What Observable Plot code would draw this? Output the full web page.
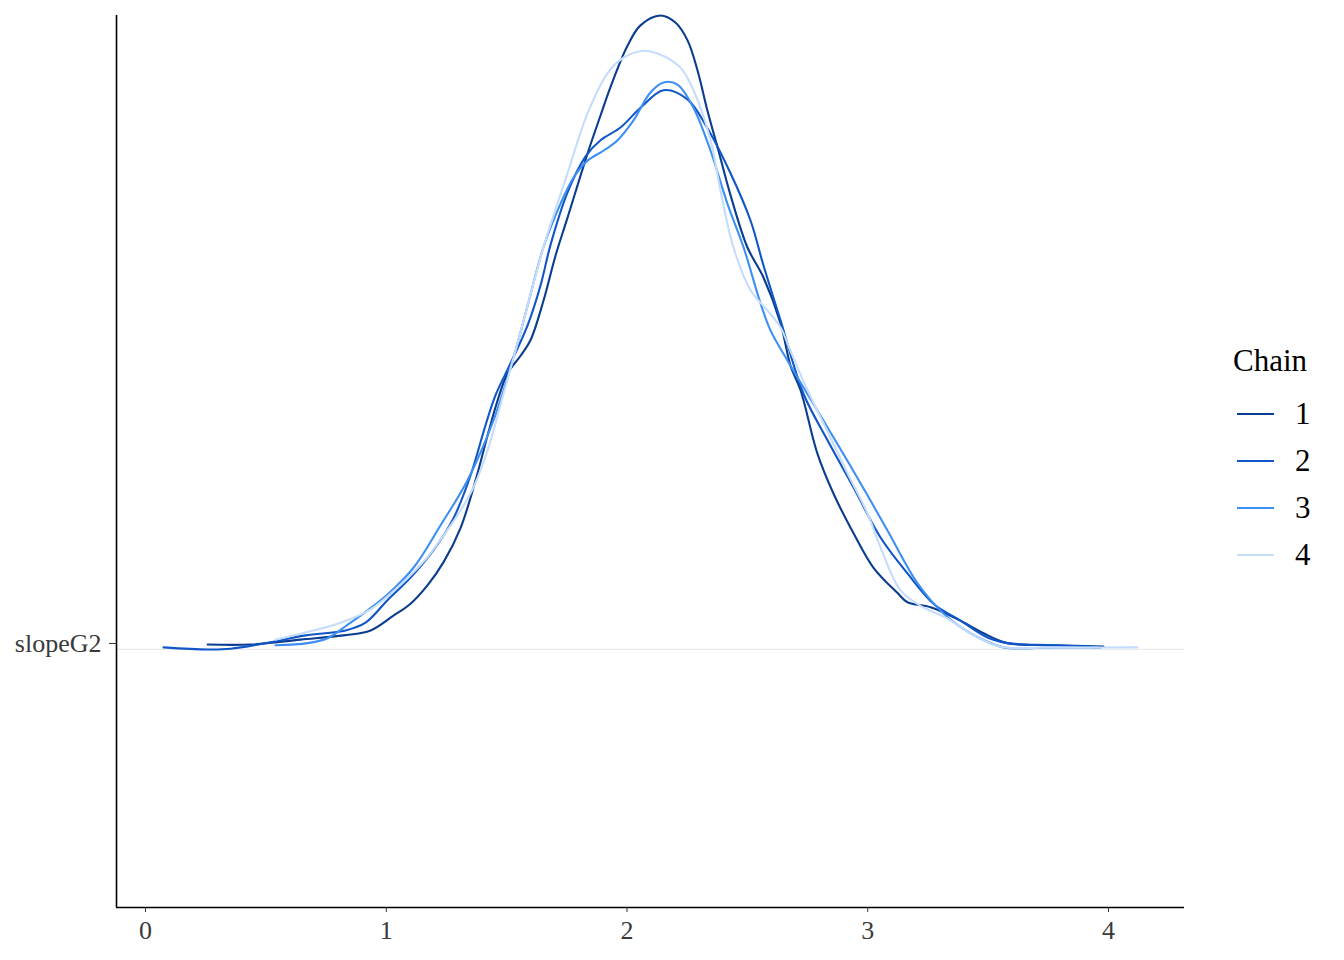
<!DOCTYPE html>
<html>
<head>
<meta charset="utf-8">
<script src="https://cdn.jsdelivr.net/npm/d3@7"></script>
<script src="https://cdn.jsdelivr.net/npm/@observablehq/plot@0.6"></script>
<style>
  html, body { margin: 0; padding: 0; background: #fff; }
  #wrap { position: relative; width: 1344px; height: 960px; font-family: "Liberation Serif", "Times New Roman", serif; }
  #chart { position: absolute; left: 0; top: 0; }
  #legend { position: absolute; left: 1233px; top: 341px; color: #000; }
  #legend .title { font-size: 31px; line-height: 40px; margin-bottom: 9px; }
  #legend .item { display: flex; align-items: center; height: 47px; }
  #legend .sw { width: 37px; height: 0; border-top: 2.5px solid; margin-left: 4px; margin-right: 21px; }
  #legend .lab { font-size: 31px; }
</style>
</head>
<body>
<div id="wrap">
  <div id="chart"></div>
  <div id="legend"></div>
</div>
<script>
// ---- data: kernel density estimates per chain, [x, density] ----
const parameter = "slopeG2";
const chains = ["1", "2", "3", "4"];
const chainColors = ["#0b3d8f", "#1056c8", "#3d8ff2", "#c5dcfa"];
const xTicks = [0, 1, 2, 3, 4];

const chain1 = [
  [0.258,0.007],[0.436,0.007],[0.644,0.014],[0.822,0.020],[0.935,0.027],[1.030,0.048],
  [1.101,0.065],[1.171,0.091],[1.238,0.124],[1.308,0.172],[1.371,0.240],[1.421,0.304],
  [1.462,0.353],[1.504,0.392],[1.558,0.417],[1.599,0.439],[1.653,0.495],[1.703,0.559],
  [1.753,0.613],[1.836,0.704],[1.890,0.758],[1.931,0.798],[2.002,0.857],[2.056,0.886],
  [2.139,0.900],[2.201,0.890],[2.251,0.865],[2.293,0.822],[2.334,0.765],[2.380,0.708],
  [2.430,0.645],[2.500,0.571],[2.567,0.528],[2.638,0.463],[2.679,0.403],[2.721,0.368],
  [2.791,0.278],[2.858,0.221],[2.941,0.165],[3.024,0.116],[3.124,0.080],[3.165,0.067],
  [3.261,0.060],[3.385,0.041],[3.481,0.023],[3.580,0.009],[3.772,0.006],[3.979,0.004]
];
const chain2 = [
  [0.075,0.003],[0.258,0.000],[0.353,0.001],[0.532,0.011],[0.665,0.020],[0.831,0.027],
  [0.914,0.038],[1.005,0.070],[1.101,0.102],[1.196,0.141],[1.279,0.186],[1.350,0.247],
  [1.412,0.318],[1.454,0.361],[1.516,0.406],[1.587,0.460],[1.641,0.517],[1.682,0.574],
  [1.753,0.649],[1.828,0.700],[1.890,0.723],[1.973,0.741],[2.056,0.769],[2.152,0.794],
  [2.251,0.781],[2.334,0.740],[2.430,0.676],[2.513,0.609],[2.567,0.545],[2.638,0.467],
  [2.733,0.363],[2.833,0.297],[2.941,0.230],[3.053,0.159],[3.165,0.108],[3.273,0.065],
  [3.385,0.041],[3.497,0.017],[3.580,0.009],[3.772,0.006],[3.967,0.003]
];
const chain3 = [
  [0.540,0.006],[0.673,0.009],[0.756,0.016],[0.839,0.035],[0.893,0.048],[1.005,0.078],
  [1.113,0.116],[1.225,0.176],[1.337,0.240],[1.445,0.325],[1.529,0.415],[1.587,0.488],
  [1.653,0.571],[1.724,0.633],[1.778,0.670],[1.836,0.694],[1.902,0.708],[1.961,0.723],
  [2.027,0.751],[2.098,0.791],[2.152,0.805],[2.210,0.802],[2.276,0.769],[2.347,0.708],
  [2.417,0.633],[2.484,0.571],[2.555,0.491],[2.596,0.453],[2.667,0.410],[2.733,0.372],
  [2.858,0.301],[2.970,0.236],[3.082,0.169],[3.207,0.094],[3.315,0.051],[3.427,0.023],
  [3.564,0.003],[3.772,0.003],[3.954,0.003]
];
const chain4 = [
  [0.540,0.014],[0.665,0.024],[0.810,0.038],[0.935,0.057],[1.059,0.092],[1.171,0.131],
  [1.238,0.162],[1.308,0.197],[1.362,0.230],[1.421,0.283],[1.487,0.363],[1.545,0.434],
  [1.587,0.488],[1.653,0.571],[1.753,0.676],[1.836,0.761],[1.919,0.818],[1.985,0.840],
  [2.069,0.850],[2.127,0.846],[2.222,0.826],[2.276,0.794],[2.347,0.723],[2.388,0.652],
  [2.442,0.571],[2.513,0.510],[2.584,0.481],[2.638,0.457],[2.679,0.424],[2.750,0.368],
  [2.845,0.301],[2.916,0.250],[2.999,0.193],[3.053,0.145],[3.136,0.084],[3.219,0.062],
  [3.331,0.044],[3.427,0.023],[3.551,0.004],[3.772,0.003],[4.120,0.003]
];

// ---- build table ----
const series = [chain1, chain2, chain3, chain4];
const rows = [];
series.forEach((s, i) => s.forEach(([x, d]) => rows.push({chain: chains[i], x, density: d})));

const xDomain = [-0.1205, 4.3157];
const yDomain = [-0.3663, 0.9];

const plot = Plot.plot({
  width: 1200,
  height: 960,
  marginLeft: 116,
  marginRight: 16,
  marginTop: 15,
  marginBottom: 53,
  style: {fontFamily: '"Liberation Serif", "Times New Roman", serif', background: "#fff"},
  x: {domain: xDomain},
  y: {domain: yDomain},
  color: {domain: chains, range: chainColors},
  marks: [
    Plot.ruleY([0], {stroke: "#ebebeb", strokeWidth: 1.2}),
    Plot.line(rows, {x: "x", y: "density", z: "chain", stroke: "chain", strokeWidth: 2.1, curve: "catmull-rom"}),
    Plot.ruleX([xDomain[0]], {stroke: "#000", strokeWidth: 1.6}),
    Plot.ruleY([yDomain[0]], {stroke: "#000", strokeWidth: 1.6}),
    Plot.axisX(xTicks, {tickSize: 5, tickPadding: 8, fontSize: 26, stroke: "#333", fill: "#3a3a3a", label: null, tickFormat: d => String(d)}),
    Plot.axisY([0], {tickSize: 7, tickPadding: 8, fontSize: 26, stroke: "#333", fill: "#3a3a3a", label: null, dy: -6, tickFormat: () => parameter})
  ]
});
document.getElementById("chart").appendChild(plot);

// ---- legend ----
const lg = document.getElementById("legend");
const t = document.createElement("div");
t.className = "title";
t.textContent = "Chain";
lg.appendChild(t);
chains.forEach((c, i) => {
  const it = document.createElement("div");
  it.className = "item";
  const sw = document.createElement("div");
  sw.className = "sw";
  sw.style.borderTopColor = chainColors[i];
  const lab = document.createElement("span");
  lab.className = "lab";
  lab.textContent = c;
  it.appendChild(sw);
  it.appendChild(lab);
  lg.appendChild(it);
});
</script>
</body>
</html>
